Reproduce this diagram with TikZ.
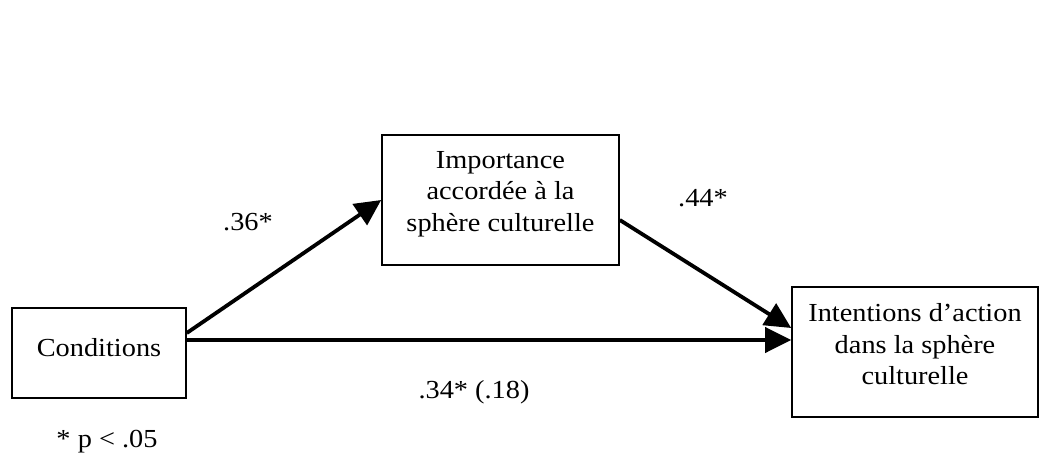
\documentclass[tikz,border=0pt]{standalone}
\usepackage{fontspec}
\setmainfont[FakeStretch=1.09]{Liberation Serif}
\usepackage{tikz}
\usetikzlibrary{arrows.meta}

\tikzset{
    varbox/.style={draw, line width=1.6pt, inner sep=0pt, align=center,
        font=\fontsize{26}{31.5}\selectfont},
    coef/.style={font=\fontsize{26}{31.5}\selectfont},
    path/.style={line width=3.8pt, -{Triangle[length=26pt, width=25pt]}}
}

\begin{document}
\begin{tikzpicture}[x=1pt, y=-1pt]
        \useasboundingbox (0, 0) rectangle (1040, 462);
        \node[varbox, text depth=12pt, minimum width=174pt, minimum height=90pt] (cond) at (99, 353) {Conditions};
        \node[varbox, text depth=18pt, minimum width=237pt, minimum height=130pt] (imp) at (500.5, 200) {Importance\\accordée à la\\sphère culturelle};
        \node[varbox, text depth=16pt, minimum width=246pt, minimum height=130pt] (int) at (915, 352) {Intentions d’action\\dans la sphère\\culturelle};
        \draw[path] ([yshift=20pt]cond.east) -- (imp.west);
        \draw[path] ([yshift=-20pt]imp.east) -- ([yshift=24pt]int.west);
        \draw[path] ([yshift=13pt]cond.east) -- ([yshift=12pt]int.west);
        \node[coef] (a) at (248, 222) {.36*};
        \node[coef] (b) at (703, 198) {.44*};
        \node[coef] (c) at (474, 392) {.34* (.18)};
        \node[coef] (sig) at (107, 442) {* p < .05};
    \end{tikzpicture}
\end{document}
